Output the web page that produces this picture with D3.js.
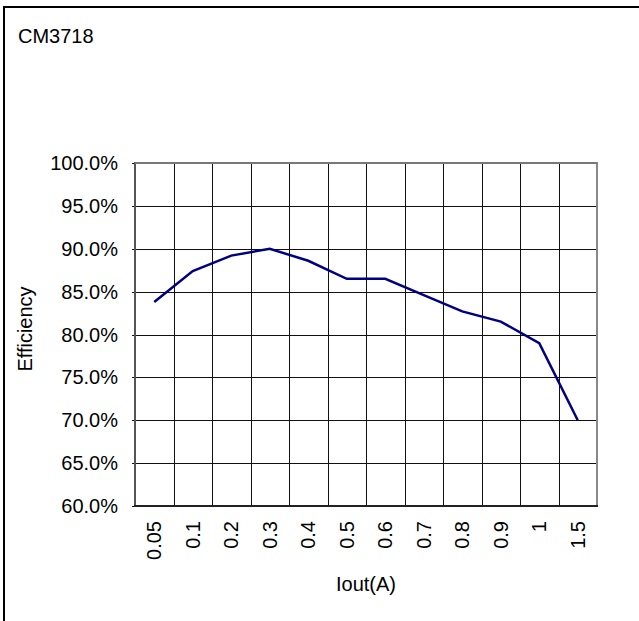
<html>
<meta charset="utf-8">
<style>
body { margin: 0; background: #fff; }
text { font-family: "Liberation Sans", Arial, sans-serif; fill: #000; }
.grid line { stroke: #111; stroke-width: 1; shape-rendering: crispEdges; }
</style>
<body>
<script src="https://cdn.jsdelivr.net/npm/d3@7"></script>
<script>

// data
var categories = ['0.05', '0.1', '0.2', '0.3', '0.4', '0.5', '0.6', '0.7', '0.8', '0.9', '1', '1.5'];
var efficiency = [83.8, 87.4, 89.2, 90.0, 88.6, 86.5, 86.5, 84.6, 82.7, 81.5, 79.0, 70.0];
var yTicks = [60, 65, 70, 75, 80, 85, 90, 95, 100];

// plot box (note: "top" is taken by window.top, so use plot_*)
var width = 639,
    height = 621,
    plot_left = 135,
    plot_right = 597,
    plot_top = 163,
    plot_bottom = 506;

var svg = d3.select('body').append('svg')
    .attr('width', width)
    .attr('height', height);

// outer chart frame (right/bottom edges run off the page)
svg.append('rect')
    .attr('x', 4).attr('y', 7)
    .attr('width', 700).attr('height', 700)
    .attr('fill', 'none')
    .attr('stroke', '#000')
    .attr('stroke-width', 2);

svg.append('text')
    .attr('x', 18).attr('y', 43)
    .style('font-size', '20px')
    .text('CM3718');

var x = d3.scaleBand().domain(categories).range([plot_left, plot_right]);
var y = d3.scaleLinear().domain([60, 100]).range([plot_bottom, plot_top]);

var grid = svg.append('g').attr('class', 'grid');

// horizontal grid lines
grid.selectAll('line.h')
    .data(yTicks)
    .enter().append('line')
    .attr('class', 'h')
    .attr('x1', plot_left - 3).attr('x2', plot_right)
    .attr('y1', function(d) { return Math.round(y(d)) + 0.5; })
    .attr('y2', function(d) { return Math.round(y(d)) + 0.5; });

// vertical grid lines at band edges
grid.selectAll('line.v')
    .data(categories.slice(1))
    .enter().append('line')
    .attr('class', 'v')
    .attr('x1', function(d) { return Math.round(x(d)) + 0.5; })
    .attr('x2', function(d) { return Math.round(x(d)) + 0.5; })
    .attr('y1', plot_top).attr('y2', plot_bottom);

// plot frame
svg.append('line')
    .attr('x1', plot_left).attr('x2', plot_left).attr('y1', plot_top - 1).attr('y2', plot_bottom + 1)
    .attr('stroke', '#555').attr('stroke-width', 2);
svg.append('line')
    .attr('x1', plot_right).attr('x2', plot_right).attr('y1', plot_top - 1).attr('y2', plot_bottom + 1)
    .attr('stroke', '#888').attr('stroke-width', 2);
svg.append('line')
    .attr('x1', plot_left).attr('x2', plot_right).attr('y1', plot_top).attr('y2', plot_top)
    .attr('stroke', '#777').attr('stroke-width', 2);
svg.append('line')
    .attr('x1', plot_left - 1).attr('x2', plot_right + 1).attr('y1', plot_bottom).attr('y2', plot_bottom)
    .attr('stroke', '#222').attr('stroke-width', 2);

// y tick labels
svg.selectAll('text.ytick')
    .data(yTicks)
    .enter().append('text')
    .attr('class', 'ytick')
    .attr('x', 118)
    .attr('y', function(d) { return y(d); })
    .attr('dy', '0.35em')
    .attr('text-anchor', 'end')
    .style('font-size', '20px')
    .text(function(d) { return d3.format('.1f')(d) + '%'; });

// x tick labels, rotated
svg.selectAll('text.xtick')
    .data(categories)
    .enter().append('text')
    .attr('class', 'xtick')
    .attr('transform', function(d) {
        return 'translate(' + (x(d) + x.bandwidth() / 2) + ',521) rotate(-90)';
    })
    .attr('dy', '0.35em')
    .attr('text-anchor', 'end')
    .style('font-size', '20px')
    .text(function(d) { return d; });

// axis titles
svg.append('text')
    .attr('transform', 'translate(25,329) rotate(-90)')
    .attr('text-anchor', 'middle')
    .attr('dy', '0.35em')
    .style('font-size', '20px')
    .text('Efficiency');

svg.append('text')
    .attr('x', 366).attr('y', 584)
    .attr('text-anchor', 'middle')
    .attr('dy', '0.35em')
    .style('font-size', '20px')
    .text('Iout(A)');

// efficiency line
var line = d3.line()
    .x(function(d, i) { return x(categories[i]) + x.bandwidth() / 2; })
    .y(function(d) { return y(d); });

svg.append('path')
    .datum(efficiency)
    .attr('d', line)
    .attr('fill', 'none')
    .attr('stroke', '#000080')
    .attr('stroke-width', 2.5);

</script>
</body>
</html>
